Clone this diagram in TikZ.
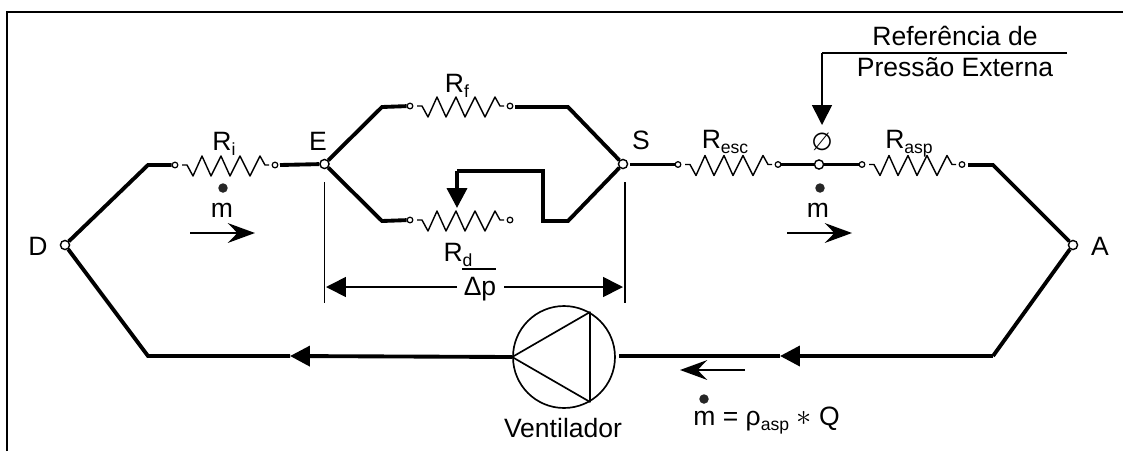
\documentclass[tikz,border=0pt]{standalone}
\usepackage{fontspec}
\usepackage{xcolor}
\usetikzlibrary{arrows.meta}
\setmainfont{Liberation Sans}
\newfontfamily\symbolfont{DejaVu Sans}
\newcommand{\subtext}[1]{\raisebox{-0.2em}{\fontsize{10}{10}\selectfont #1}}
\tikzstyle{wire}=[line width=2.2pt, line join=miter]
\tikzstyle{thinline}=[line width=0.95pt]
\tikzstyle{zigzag}=[line width=0.8pt, line join=round]
\tikzstyle{terminal}=[circle, draw, fill=white, line width=0.7pt, inner sep=0pt, minimum size=3.2pt]
\tikzstyle{junction}=[circle, draw, fill=white, line width=0.8pt, inner sep=0pt, minimum size=5.2pt]
\tikzstyle{massdot}=[circle, fill=black!85, inner sep=0pt, minimum size=5.4pt]
\tikzstyle{label}=[inner sep=0pt, anchor=base, font=\fontsize{15.1}{17}\selectfont]
\tikzstyle{bighead}=[-{Triangle[length=11.3pt, width=11.3pt]}]
\tikzstyle{flowhead}=[-{Stealth[length=15.5pt, width=11.3pt, inset=5.5pt]}]

\begin{document}
\begin{tikzpicture}[x=0.02cm, y=-0.02cm]
    \useasboundingbox (0,0) rectangle (1123,451);

    % Frame
    \draw[line width=1.1pt] (7,451) -- (7,12) -- (1123,12);

    % Resistors
    \foreach \name/\x/\y in {ri/175/165, rf/410/106, rd/410/220, resc/678/164.5, rasp/862/164.5} {
        \node[terminal] (\name l) at (\x,\y) {};
        \node[terminal] (\name r) at (\x+100,\y) {};
        \draw[zigzag] (\name l) ++(7,0) -- ++(5,0) -- ++(6,11) -- ++(9,-20) -- ++(9,20) -- ++(10,-20)
            -- ++(9,20) -- ++(10,-20) -- ++(10,20) -- ++(10,-20) -- ++(5,9) -- ++(4,0);
    }

    % Junctions
    \node[junction] (D) at (65,245) {};
    \node[junction] (E) at (324.5,164) {};
    \node[junction] (S) at (623,164) {};
    \node[junction] (ref) at (819,164.5) {};
    \node[junction] (A) at (1073,245) {};

    % Bends
    \coordinate (ditop) at (148,165);
    \coordinate (dibot) at (148,356);
    \coordinate (atop) at (993,165);
    \coordinate (abot) at (993,356);
    \coordinate (etop) at (382,107);
    \coordinate (ebot) at (382,221);
    \coordinate (stop) at (568,107);
    \coordinate (sbot) at (568,221);
    \coordinate (rfout) at (515,107);
    \coordinate (riout) at (280,165);
    \coordinate (raspout) at (968,165);
    \coordinate (sout) at (630,164.5);
    \coordinate (slide) at (543,221);
    \coordinate (slideup) at (543,171);
    \coordinate (slidetop) at (457,171);
    \coordinate (slidetip) at (457,208);

    % Main loop
    \draw[wire] (D) -- (ditop) -- (ril);
    \draw[wire] (riout) -- (E);
    \draw[wire] (E) -- (etop) -- (rfl);
    \draw[wire] (rfout) -- (stop) -- (S);
    \draw[wire] (E) -- (ebot) -- (rdl);
    \draw[wire] (S) -- (sbot) -- (slide) -- (slideup) -- (slidetop);
    \draw[wire, bighead] (slidetop) -- (slidetip);
    \draw[wire] (sout) -- (rescl);
    \draw[wire] (rescr) -- (ref);
    \draw[wire] (ref) -- (raspl);
    \draw[wire] (raspout) -- (atop) -- (A);

    % Ventilador
    \node[circle, draw, line width=0.95pt, minimum size=2.04cm, inner sep=0pt] (fan) at (564,357) {};
    \draw[thinline, line join=round] (fan.west) -- (fan.60) -- (fan.-60) -- cycle;
    \coordinate (fanin) at (619,356);
    \coordinate (arrin) at (780,356);
    \coordinate (arrout) at (290,356);
    \draw[wire] (A) -- (abot);
    \draw[wire, bighead] (abot) -- (arrin);
    \draw[wire] (arrin) -- (fanin);
    \draw[wire, bighead] (fan.west) -- (arrout);
    \draw[wire] (arrout) -- (dibot) -- (D);
    \node[label] (fanlabel) at (563,437) {Ventilador};

    % Resistor labels
    \node[label] (lri) at (224,150) {R\subtext{i}};
    \node[label] (lrf) at (457,92) {R\subtext{f}};
    \node[label] (lrd) at (458,261) {R\subtext{d}};
    \node[label] (lresc) at (725,148.5) {R\subtext{esc}};
    \node[label] (lrasp) at (909,148.5) {R\subtext{asp}};

    % Junction labels
    \node[label] (lD) at (38,255) {D};
    \node[label] (lE) at (318,150) {E};
    \node[label] (lS) at (641,149) {S};
    \node[label] (lA) at (1100,255) {A};

    % Pressure drop
    \coordinate (dimEtop) at (324.5,182);
    \coordinate (dimEbot) at (324.5,303);
    \coordinate (dimStop) at (625,182);
    \coordinate (dimSbot) at (625,303);
    \draw[thinline] (dimEtop) -- (dimEbot);
    \draw[thinline] (dimStop) -- (dimSbot);
    \node[label] (dp) at (480,295) {Δp};
    \coordinate (dimE) at (326,287);
    \coordinate (dimS) at (623,287);
    \coordinate (dpl) at (457,287);
    \coordinate (dpr) at (504,287);
    \draw[thinline, bighead] (dpl) -- (dimE);
    \draw[thinline, bighead] (dpr) -- (dimS);
    \coordinate (barl) at (462,269);
    \coordinate (barr) at (496,269);
    \draw[thinline] (barl) -- (barr);

    % External pressure reference
    \node[label] (ref1) at (955,45) {Referência de};
    \node[label] (ref2) at (955,76) {Pressão Externa};
    \coordinate (refline) at (1067,53);
    \coordinate (refbend) at (822,53);
    \coordinate (reftip) at (822,125);
    \draw[thinline] (refline) -- (refbend);
    \draw[thinline, bighead] (refbend) -- (reftip);
    \node[inner sep=0pt, font=\symbolfont\fontsize{14}{14}\selectfont] (zero) at (822,142) {∅};

    % Mass flow
    \foreach \name/\x/\mx/\xa/\xb in {left/223/222/190/255, right/820/818/787/852} {
        \node[massdot] (dot\name) at (\x,188) {};
        \node[label] (m\name) at (\mx,217) {m};
        \coordinate (from\name) at (\xa,233);
        \coordinate (to\name) at (\xb,233);
        \draw[thinline, flowhead] (from\name) -- (to\name);
    }
    \coordinate (fromret) at (745,370);
    \coordinate (toret) at (680,370);
    \draw[thinline, flowhead] (fromret) -- (toret);
    \node[massdot] (dotret) at (704,399) {};
    \node[label, anchor=base west] (formula) at (693,425) {m = ρ\subtext{asp} {\fontsize{18}{18}\selectfont$*$} Q};
\end{tikzpicture}
\end{document}
